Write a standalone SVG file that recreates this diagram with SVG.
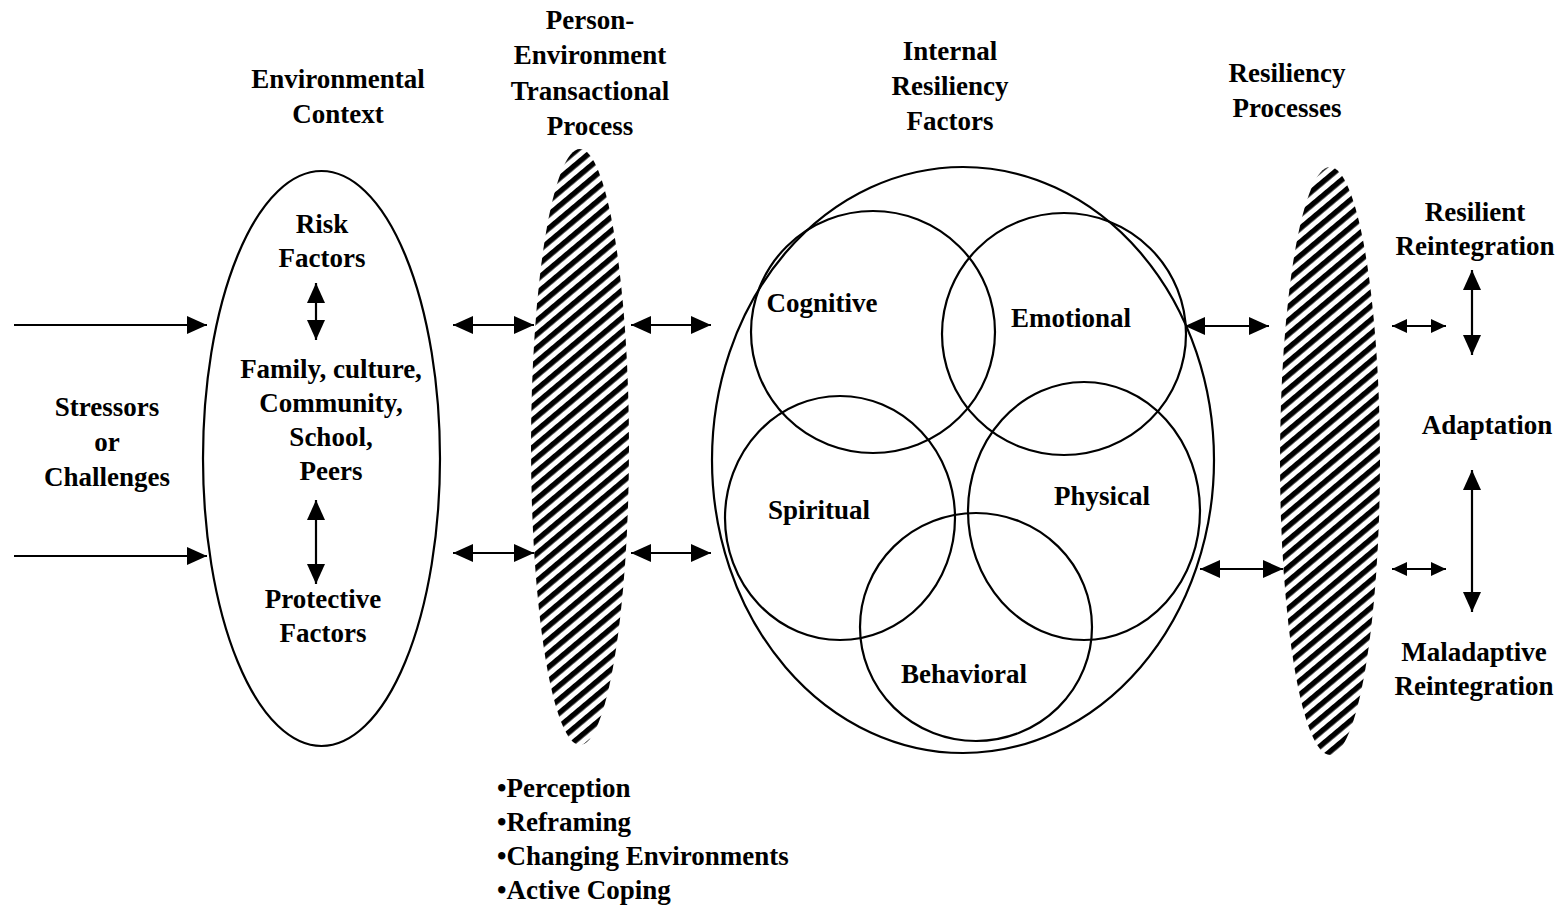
<svg xmlns="http://www.w3.org/2000/svg" width="1560" height="906" viewBox="0 0 1560 906">
<defs>
<style>
.t{font-family:"Liberation Serif","Times New Roman",serif;font-weight:bold;font-size:27px;fill:#000;text-anchor:middle}
.tl{font-family:"Liberation Serif","Times New Roman",serif;font-weight:bold;font-size:27px;fill:#000;text-anchor:start}
.o{fill:none;stroke:#000;stroke-width:2.2}
.c{fill:none;stroke:#000;stroke-width:2.2}
.h{fill:url(#hatch);stroke:none}
.a{stroke:#000;stroke-width:2.2;fill:none;marker-end:url(#ah)}
.d{stroke:#000;stroke-width:2.2;fill:none;marker-start:url(#ah);marker-end:url(#ah)}
.ds{stroke:#000;stroke-width:2.2;fill:none;marker-start:url(#ahs);marker-end:url(#ahs)}
</style>
<pattern id="hatch" width="10.5" height="10.5" patternUnits="userSpaceOnUse" patternTransform="rotate(-40)">
<rect x="0" y="0" width="10.5" height="5.4" fill="#000"/>
</pattern>
<marker id="ah" viewBox="0 0 20 18" refX="20" refY="9" markerWidth="20" markerHeight="18" markerUnits="userSpaceOnUse" orient="auto-start-reverse">
<path d="M0,0 L20,9 L0,18 z" fill="#000"/>
</marker>
<marker id="ahs" viewBox="0 0 15 14" refX="15" refY="7" markerWidth="15" markerHeight="14" markerUnits="userSpaceOnUse" orient="auto-start-reverse">
<path d="M0,0 L15,7 L0,14 z" fill="#000"/>
</marker>
</defs>
<rect width="1560" height="906" fill="#fff"/>

<g id="stressors">
<text class="t" x="107" y="416">Stressors</text>
<text class="t" x="107" y="451">or</text>
<text class="t" x="107" y="486">Challenges</text>
</g>

<g id="environmental-context">
<ellipse class="o" cx="321.5" cy="458.5" rx="118.5" ry="287.5"/>
<text class="t" x="338" y="88">Environmental</text>
<text class="t" x="338" y="123">Context</text>
<text class="t" x="322" y="233">Risk</text>
<text class="t" x="322" y="267">Factors</text>
<text class="t" x="331" y="378">Family, culture,</text>
<text class="t" x="331" y="412">Community,</text>
<text class="t" x="331" y="446">School,</text>
<text class="t" x="331" y="480">Peers</text>
<text class="t" x="323" y="608">Protective</text>
<text class="t" x="323" y="642">Factors</text>
</g>

<g id="transactional-process">
<ellipse class="h" cx="580" cy="447" rx="49" ry="298"/>
<text class="t" x="590" y="29">Person-</text>
<text class="t" x="590" y="64">Environment</text>
<text class="t" x="590" y="100">Transactional</text>
<text class="t" x="590" y="135">Process</text>
<text class="tl" x="497" y="797">•Perception</text>
<text class="tl" x="497" y="831">•Reframing</text>
<text class="tl" x="497" y="865">•Changing Environments</text>
<text class="tl" x="497" y="899">•Active Coping</text>
</g>

<g id="internal-resiliency-factors">
<ellipse class="o" cx="963" cy="460" rx="251" ry="293"/>
<text class="t" x="950" y="60">Internal</text>
<text class="t" x="950" y="95">Resiliency</text>
<text class="t" x="950" y="130">Factors</text>
</g>

<g id="cognitive">
<ellipse class="c" cx="873" cy="332" rx="122" ry="121"/>
<text class="t" x="822" y="312">Cognitive</text>
</g>
<g id="emotional">
<ellipse class="c" cx="1064" cy="334" rx="122" ry="121"/>
<text class="t" x="1071" y="327">Emotional</text>
</g>
<g id="spiritual">
<ellipse class="c" cx="840" cy="518" rx="115" ry="122"/>
<text class="t" x="819" y="519">Spiritual</text>
</g>
<g id="physical">
<ellipse class="c" cx="1084" cy="511" rx="116" ry="129"/>
<text class="t" x="1102" y="505">Physical</text>
</g>
<g id="behavioral">
<ellipse class="c" cx="976" cy="627" rx="116" ry="114"/>
<text class="t" x="964" y="683">Behavioral</text>
</g>

<g id="resiliency-processes">
<ellipse class="h" cx="1330" cy="461" rx="50" ry="294"/>
<text class="t" x="1287" y="82">Resiliency</text>
<text class="t" x="1287" y="117">Processes</text>
</g>

<g id="resilient-reintegration">
<text class="t" x="1475" y="221">Resilient</text>
<text class="t" x="1475" y="255">Reintegration</text>
</g>
<g id="adaptation">
<text class="t" x="1487" y="434">Adaptation</text>
</g>
<g id="maladaptive-reintegration">
<text class="t" x="1474" y="661">Maladaptive</text>
<text class="t" x="1474" y="695">Reintegration</text>
</g>

<g id="connectors">
<line class="a" x1="14" y1="325" x2="207" y2="325"/>
<line class="a" x1="14" y1="556" x2="207" y2="556"/>
<line class="d" x1="316" y1="283" x2="316" y2="340"/>
<line class="d" x1="316" y1="500" x2="316" y2="584"/>
<line class="d" x1="453" y1="325" x2="534" y2="325"/>
<line class="d" x1="453" y1="553" x2="534" y2="553"/>
<line class="d" x1="631" y1="325" x2="711" y2="325"/>
<line class="d" x1="631" y1="553" x2="711" y2="553"/>
<line class="d" x1="1185" y1="326" x2="1269" y2="326"/>
<line class="d" x1="1200" y1="569" x2="1283" y2="569"/>
<line class="ds" x1="1392" y1="326" x2="1446" y2="326"/>
<line class="ds" x1="1392" y1="569" x2="1446" y2="569"/>
<line class="d" x1="1472" y1="270" x2="1472" y2="355"/>
<line class="d" x1="1472" y1="470" x2="1472" y2="612"/>
</g>
</svg>
